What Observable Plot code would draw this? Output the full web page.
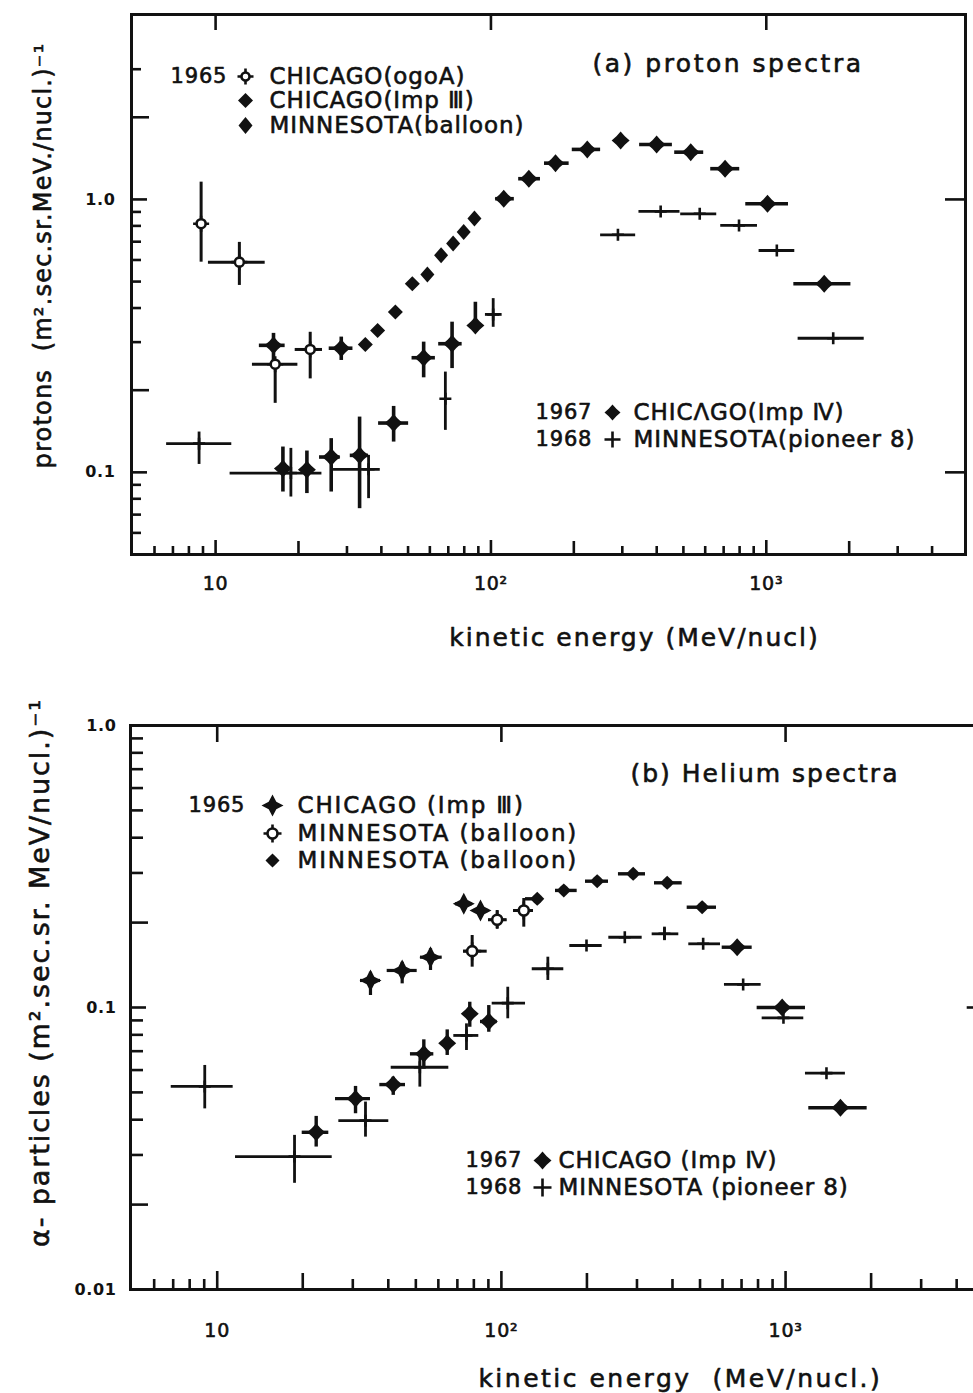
<!DOCTYPE html>
<html><head><meta charset="utf-8">
<script src="https://cdn.jsdelivr.net/npm/d3@7"></script>
<script src="https://cdn.jsdelivr.net/npm/@observablehq/plot@0.6"></script>
<style>
html,body{margin:0;padding:0;background:#fff;overflow:hidden;}
#page{position:relative;width:973px;height:1393px;overflow:hidden;background:#fff;}
#page svg{position:absolute;left:0;max-width:none !important;}
</style></head><body><div id="page"></div>
<script>
// ================= DATA =================
// rows: [E (MeV/nucl), flux, Elo, Ehi, fluxLo, fluxHi]
// ---- Panel (a) proton spectra ----
const pOgoA = [
  [8.86, 0.815, null, null, 0.589, 1.157],
  [12.2, 0.589, 9.42, 15.14, 0.484, 0.696],
  [16.46, 0.249, 13.61, 19.9, 0.179, 0.257],
  [22.06, 0.282, 19.46, 24.45, 0.220, 0.326]
];
const pImpIII = [[34.97, 0.294], [38.76, 0.331], [44.96, 0.387], [51.82, 0.491]];
const pBalloon = [[58.76, 0.531], [65.9, 0.624], [72.87, 0.690], [79.6, 0.759], [87.1, 0.852]];
const pImpIV = [
  [16.23, 0.292, 14.42, 17.89, 0.257, 0.323],
  [28.6, 0.285, 25.86, 31.54, 0.257, 0.313],
  [56.97, 0.263, 51.7, 62.84, 0.222, 0.300],
  [72.25, 0.296, 64.6, 78.6, 0.240, 0.355],
  [87.8, 0.345, null, null, 0.326, 0.42],
  [111.3, 1.006, 104, 121.6, null, null],
  [137.3, 1.191, 126.1, 151.3, null, null],
  [171.6, 1.358, 156.5, 192.3, null, null],
  [223.8, 1.525, 197.4, 250.2, null, null],
  [295.8, 1.645, null, null, null, null],
  [399.7, 1.59, 346.7, 456, null, null],
  [531.6, 1.49, 464.9, 592.5, null, null],
  [708.4, 1.296, 628.3, 800.8, null, null],
  [1010, 0.964, 842.3, 1204, null, null],
  [1623, 0.491, 1259, 2029, null, null],
  [44.32, 0.1516, 39.08, 50.24, 0.1291, 0.1744],
  [17.56, 0.1032, null, null, 0.0847, 0.1238],
  [21.46, 0.1023, null, null, 0.0836, 0.1197],
  [26.3, 0.1138, 23.85, 28.36, 0.0847, 0.1329],
  [33.34, 0.1154, 30.84, 35.94, 0.0736, 0.1594]
];
const pPioneer = [
  [8.71, 0.1274, 6.64, 11.45, 0.1069, 0.1405],
  [18.77, 0.0994, 11.29, 24.33, 0.0812, 0.1224],
  [35.94, 0.1026, 26.81, 39.64, 0.0801, 0.1154],
  [68.31, 0.186, null, null, 0.1425, 0.233],
  [101.9, 0.379, 95.5, 109.8, 0.340, 0.433],
  [289.2, 0.742, 250.2, 335.4, null, null],
  [413.4, 0.904, 344.8, 485.9, null, null],
  [573.1, 0.886, 488.8, 660.7, null, null],
  [796.1, 0.803, 683.2, 929, null, null],
  [1092, 0.650, 941.5, 1269, null, null],
  [1750, 0.310, 1305, 2268, null, null]
];
// ---- Panel (b) helium spectra ----
const hImpIII = [
  [34.62, 0.1247, 31.93, 37.55, 0.1103, 0.1334],
  [44.76, 0.1353, 39.64, 50.55, 0.1213, 0.1447],
  [56.31, 0.1508, 51.9, 61.9, 0.1353, 0.1615],
  [73.73, 0.2332, 68.96, 78.92, null, null],
  [84.43, 0.2208, 79.96, 90.3, null, null]
];
const hBalloonOpen = [
  [78.92, 0.1584, 73.55, 89.13, 0.139, 0.18],
  [96.65, 0.2047, 90.08, 104.8, 0.190, 0.2208],
  [119.9, 0.2208, 110.3, 129.7, 0.1927, 0.2435]
];
const hBalloonFilled = [
  [133.7, 0.2429, 121.6, 139.2],
  [165.8, 0.2601, 155.0, 184.8],
  [217.3, 0.2805, 197.7, 238.2],
  [290.9, 0.2979, 258.2, 321.4],
  [383.2, 0.2768, 345.7, 432.7],
  [508.7, 0.2268, 450.6, 571.3]
];
const hImpIV = [
  [22.3, 0.0361, 19.91, 24.7, 0.032, 0.0411],
  [30.67, 0.0475, 26.08, 34.62, 0.042, 0.0525],
  [41.63, 0.0533, 37.34, 45.98, 0.0488, 0.0566],
  [53.34, 0.0685, 47.86, 57.84, 0.0606, 0.0768],
  [64.47, 0.0747, null, null, 0.0676, 0.0833],
  [77.4, 0.095, null, null, 0.0851, 0.1044],
  [90.3, 0.0892, 84.43, 96.65, 0.0817, 0.1016],
  [675.5, 0.1636, 598.4, 762.9, null, null],
  [972.8, 0.1, 794.3, 1175, null, null],
  [1560, 0.0441, 1207, 1937, null, null]
];
const hPioneer = [
  [9.04, 0.0525, 6.89, 11.38, 0.0437, 0.0623],
  [18.71, 0.0296, 11.6, 25.39, 0.0238, 0.0352],
  [33.25, 0.0397, 26.79, 40.16, 0.0347, 0.0462],
  [51.64, 0.0614, 40.95, 65.31, 0.0522, 0.0694],
  [75.36, 0.0796, 68.01, 83.27, 0.0704, 0.0875],
  [105.3, 0.1036, 92.82, 121.6, 0.0912, 0.118],
  [145.7, 0.1372, 128.4, 165.8, 0.1247, 0.1508],
  [199.3, 0.1659, 174.1, 226.3, null, null],
  [271.8, 0.1775, 238.8, 312.9, null, null],
  [374.9, 0.1825, 339.3, 421.0, 0.1726, 0.1927],
  [512.9, 0.1682, 456.5, 590.2, null, null],
  [709.2, 0.1207, 609.5, 820.5, null, null],
  [983.1, 0.0919, 827.3, 1159, null, null],
  [1393, 0.0585, 1175, 1624, null, null]
];
// ---- tick values / labels ----
const xMajor = [10, 100, 1000];
const xMid = [20, 200, 2000];
const xMinor = [6, 7, 8, 9, 30, 40, 50, 60, 70, 80, 90, 300, 400, 500, 600, 700, 800, 900, 3000, 4000];
const xTickText = ["10", "10²", "10³"];
const yA_major = [0.1, 1], yA_mid = [0.2, 2], yA_minor = [0.06, 0.07, 0.08, 0.09, 0.3, 0.4, 0.5, 0.6, 0.7, 0.8, 0.9, 3];
const yA_text = ["0.1", "1.0"];
const yB_major = [0.01, 0.1, 1], yB_mid = [0.02, 0.2], yB_minor = [0.03, 0.04, 0.05, 0.06, 0.07, 0.08, 0.09, 0.3, 0.4, 0.5, 0.6, 0.7, 0.8, 0.9];
const yB_text = ["0.01", "0.1", "1.0"];
const legA1 = ["CHICAGO(ogoA)", "CHICAGO(Imp Ⅲ)", "MINNESOTA(balloon)"];
const legA2 = ["CHICΛGO(Imp Ⅳ)", "MINNESOTA(pioneer 8)"];
const legB1 = ["CHICAGO (Imp Ⅲ)", "MINNESOTA (balloon)", "MINNESOTA (balloon)"];
const legB2 = ["CHICAGO (Imp Ⅳ)", "MINNESOTA (pioneer 8)"];

// ================= HELPERS =================
const INK = "#111";
const FONT = "'DejaVu Sans', sans-serif";
const rec = a => a.map(([E, J, Elo = null, Ehi = null, Jlo = null, Jhi = null]) => ({E, J, Elo, Ehi, Jlo, Jhi}));
const star = (R, r) => ({draw(c) {
  c.moveTo(0, -R); c.lineTo(r, -r); c.lineTo(R, 0); c.lineTo(r, r);
  c.lineTo(0, R); c.lineTo(-r, r); c.lineTo(-R, 0); c.lineTo(-r, -r); c.closePath();
}});
const rhombus = (w, h) => ({draw(c) { c.moveTo(0, -h); c.lineTo(w, 0); c.lineTo(0, h); c.lineTo(-w, 0); c.closePath(); }});
const arms = (L) => ({draw(c) { c.moveTo(-L, 0); c.lineTo(L, 0); c.moveTo(0, -L); c.lineTo(0, L); }});

function bars(data, sw) {
  const d = rec(data);
  return [
    Plot.ruleY(d.filter(r => r.Elo != null), {y: "J", x1: "Elo", x2: "Ehi", stroke: INK, strokeWidth: sw}),
    Plot.ruleX(d.filter(r => r.Jlo != null), {x: "E", y1: "Jlo", y2: "Jhi", stroke: INK, strokeWidth: sw})
  ];
}
function filled(data, symbol) {
  return Plot.dot(rec(data), {x: "E", y: "J", symbol, r: 5, fill: INK, stroke: "none"});
}
function openMark(data, R, L) {
  return [
    Plot.dot(rec(data), {x: "E", y: "J", symbol: arms(L), r: 5, fill: "none", stroke: INK, strokeWidth: 2.6}),
    Plot.dot(rec(data), {x: "E", y: "J", symbol: "circle", r: R, fill: "white", stroke: INK, strokeWidth: 2.6})
  ];
}
function plusMark(data, L) {
  return Plot.dot(rec(data), {x: "E", y: "J", symbol: arms(L), r: 5, fill: "none", stroke: INK, strokeWidth: 2.6});
}
function frameTicks(fw, fh, L) {
  const o = {stroke: INK, strokeWidth: 2.6};
  return [
    Plot.tickX(xMajor, {x: d => d, insetTop: fh - L.xMaj, ...o}),
    Plot.tickX(xMid, {x: d => d, insetTop: fh - L.xMid, ...o}),
    Plot.tickX(xMinor, {x: d => d, insetTop: fh - L.xMin, ...o}),
    Plot.tickX(xMajor, {x: d => d, insetBottom: fh - L.top, ...o}),
    Plot.tickY(L.yMajV, {y: d => d, insetRight: fw - L.yMaj, ...o}),
    Plot.tickY(L.yMidV, {y: d => d, insetRight: fw - L.yMid, ...o}),
    Plot.tickY(L.yMinV, {y: d => d, insetRight: fw - L.yMin, ...o}),
    Plot.tickY(L.rightV, {y: d => d, insetLeft: fw - L.right, ...o})
  ];
}
function label(t, o) {
  return Plot.text([t], {text: d => d, fill: INK, stroke: INK, strokeWidth: 0.6, fontFamily: FONT, lineAnchor: "middle", textAnchor: "middle", ...o});
}
function legendRow(dx0, dxM, dxT, dy, year, marker, text, fs) {
  const m = [];
  if (year) m.push(label(year, {frameAnchor: "top-left", dx: dx0, dy, textAnchor: "start", fontSize: fs - 2}));
  m.push(...marker(dxM, dy));
  m.push(label(text, {frameAnchor: "top-left", dx: dxT, dy, textAnchor: "start", fontSize: fs}));
  return m;
}
const lgDot = (symbol) => (dx, dy) => [Plot.dot([0], {frameAnchor: "top-left", dx, dy, symbol, r: 5, fill: INK, stroke: "none"})];
const lgOpen = (R, L) => (dx, dy) => [
  Plot.dot([0], {frameAnchor: "top-left", dx, dy, symbol: arms(L), r: 5, fill: "none", stroke: INK, strokeWidth: 2.6}),
  Plot.dot([0], {frameAnchor: "top-left", dx, dy, symbol: "circle", r: R, fill: "white", stroke: INK, strokeWidth: 2.6})
];
const lgPlus = (L) => (dx, dy) => [Plot.dot([0], {frameAnchor: "top-left", dx, dy, symbol: arms(L), r: 5, fill: "none", stroke: INK, strokeWidth: 2.6})];
function spacing(svg, map) {
  svg.querySelectorAll("text").forEach(t => {
    const k = t.textContent;
    if (map[k] != null) t.style.letterSpacing = map[k];
    else t.style.letterSpacing = "0.04em";
  });
}

// ================= PANEL A =================
const A = {W: 973, H: 690, mL: 131, mR: 8, mT: 14, mB: 136};
const Afw = A.W - A.mL - A.mR, Afh = A.H - A.mT - A.mB;
const plotA = Plot.plot({
  width: A.W, height: A.H, marginLeft: A.mL, marginRight: A.mR, marginTop: A.mT, marginBottom: A.mB,
  x: {type: "log", domain: [4.95, 5290], axis: null},
  y: {type: "log", domain: [0.05, 4.76], axis: null},
  style: {background: "white", fontFamily: FONT, color: INK},
  marks: [
    ...bars(pPioneer, 2.8),
    ...bars(pOgoA, 3),
    ...bars(pImpIV, 3.6),
    plusMark(pPioneer, 6),
    filled(pImpIII, rhombus(7.5, 7.5)),
    filled(pBalloon, rhombus(7, 8)),
    filled(pImpIV, star(9, 4.2)),
    ...openMark(pOgoA, 4.5, 8),
    ...frameTicks(Afw, Afh, {xMaj: 14, xMid: 13, xMin: 8, top: 16, yMajV: yA_major, yMidV: yA_mid, yMinV: yA_minor, yMaj: 16, yMid: 18, yMin: 10, rightV: [0.1, 1], right: 20}),
    Plot.frame({stroke: INK, strokeWidth: 3}),
    Plot.text(xMajor, {x: d => d, frameAnchor: "bottom", lineAnchor: "middle", dy: 29, text: (d, i) => xTickText[i], fontSize: 19, fill: INK, stroke: INK, strokeWidth: 0.6, fontFamily: FONT}),
    Plot.text(yA_major, {y: d => d, frameAnchor: "left", lineAnchor: "middle", dx: -16, textAnchor: "end", text: (d, i) => yA_text[i], fontSize: 16, fontWeight: "bold", fill: INK, fontFamily: FONT}),
    label("kinetic energy (MeV/nucl)", {frameAnchor: "bottom", dx: 86, dy: 83, fontSize: 25}),
    label("protons  (m².sec.sr.MeV./nucl.)⁻¹", {frameAnchor: "left", dx: -88, dy: -29, rotate: -90, fontSize: 24}),
    label("(a) proton spectra", {frameAnchor: "top-left", dx: 461, dy: 49, textAnchor: "start", fontSize: 25}),
    ...legendRow(39, 114, 138, 62, "1965", lgOpen(4, 8), legA1[0], 23),
    ...legendRow(39, 114, 138, 86, null, lgDot(rhombus(7.5, 7.5)), legA1[1], 23),
    ...legendRow(39, 114, 138, 111, null, lgDot(rhombus(7, 8.5)), legA1[2], 23),
    ...legendRow(404, 481, 502, 398, "1967", lgDot(star(8, 3.8)), legA2[0], 23),
    ...legendRow(404, 481, 502, 425, "1968", lgPlus(8), legA2[1], 23)
  ]
});
spacing(plotA, {"(a) proton spectra": "0.1em", "kinetic energy (MeV/nucl)": "0.08em", "protons  (m².sec.sr.MeV./nucl.)⁻¹": "0.05em"});
plotA.style.top = "0px";
document.getElementById("page").appendChild(plotA);

// ================= PANEL B =================
const B = {W: 990, H: 703, mL: 130, mR: 6.3, mT: 35, mB: 104};
const Bfw = B.W - B.mL - B.mR, Bfh = B.H - B.mT - B.mB;
const plotB = Plot.plot({
  width: B.W, height: B.H, marginLeft: B.mL, marginRight: B.mR, marginTop: B.mT, marginBottom: B.mB,
  x: {type: "log", domain: [4.953, 5000], axis: null},
  y: {type: "log", domain: [0.01, 1], axis: null},
  style: {background: "white", fontFamily: FONT, color: INK},
  marks: [
    ...bars(hPioneer, 2.8),
    ...bars(hBalloonOpen, 3),
    ...bars(hBalloonFilled, 3.4),
    ...bars(hImpIII, 3.2),
    ...bars(hImpIV, 3.4),
    plusMark(hPioneer, 6),
    filled(hImpIII, star(11, 3.8)),
    filled(hBalloonFilled, star(7, 3.6)),
    filled(hImpIV, star(9, 4.2)),
    ...openMark(hBalloonOpen, 5, 9),
    ...frameTicks(Bfw, Bfh, {xMaj: 18, xMid: 16, xMin: 10, top: 17, yMajV: yB_major, yMidV: yB_mid, yMinV: yB_minor, yMaj: 16, yMid: 18, yMin: 13, rightV: [0.1], right: 17}),
    Plot.frame({stroke: INK, strokeWidth: 3}),
    Plot.text(xMajor, {x: d => d, frameAnchor: "bottom", lineAnchor: "middle", dy: 41, text: (d, i) => xTickText[i], fontSize: 19, fill: INK, stroke: INK, strokeWidth: 0.6, fontFamily: FONT}),
    Plot.text(yB_major, {y: d => d, frameAnchor: "left", lineAnchor: "middle", dx: -14, textAnchor: "end", text: (d, i) => yB_text[i], fontSize: 16, fontWeight: "bold", fill: INK, fontFamily: FONT}),
    label("kinetic energy  (MeV/nucl.)", {frameAnchor: "bottom", dx: 123, dy: 89, fontSize: 25}),
    label("α- particles (m².sec.sr. MeV/nucl.)⁻¹", {frameAnchor: "left", dx: -90, dy: -35, rotate: -90, fontSize: 27}),
    label("(b) Helium spectra", {frameAnchor: "top-left", dx: 500, dy: 48, textAnchor: "start", fontSize: 25}),
    ...legendRow(58, 142, 167, 80, "1965", lgDot(star(11, 3.8)), legB1[0], 23),
    ...legendRow(58, 142, 167, 108, null, lgOpen(5, 9), legB1[1], 23),
    ...legendRow(58, 142, 167, 135, null, lgDot(star(7, 3.6)), legB1[2], 23),
    ...legendRow(335, 412, 428, 435, "1967", lgDot(star(9, 4.2)), legB2[0], 23),
    ...legendRow(335, 412, 428, 462, "1968", lgPlus(9), legB2[1], 23)
  ]
});
spacing(plotB, {"(b) Helium spectra": "0.08em", "kinetic energy  (MeV/nucl.)": "0.1em", "α- particles (m².sec.sr. MeV/nucl.)⁻¹": "0.07em",
  "MINNESOTA (balloon)": "0.08em", "CHICAGO (Imp Ⅲ)": "0.08em"});
plotB.style.top = "690px";
document.getElementById("page").appendChild(plotB);
</script></body></html>
